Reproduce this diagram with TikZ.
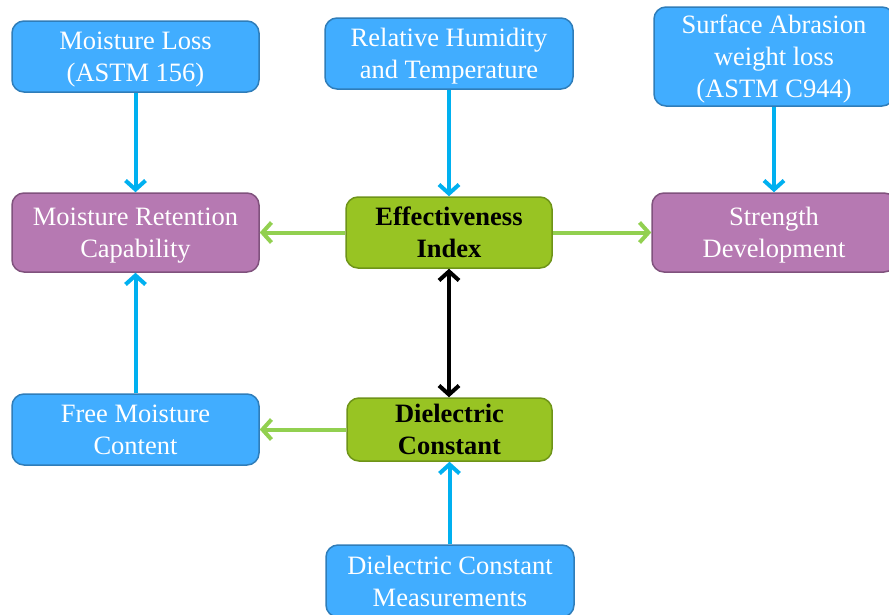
\documentclass[tikz,border=0pt]{standalone}
\usepackage{fontspec}
\setmainfont{Liberation Serif}
\usetikzlibrary{arrows.meta}
\definecolor{bfill}{HTML}{41ADFF}
\definecolor{bdraw}{HTML}{2F7DB9}
\definecolor{pfill}{HTML}{B679B2}
\definecolor{pdraw}{HTML}{80527D}
\definecolor{gfill}{HTML}{98C423}
\definecolor{gdraw}{HTML}{6E9418}
\definecolor{barrow}{HTML}{00B0F0}
\definecolor{garrow}{HTML}{92D050}
\tikzset{
  box/.style={rounded corners=12pt, line width=1.5pt, align=center, inner sep=0pt,
    text depth=-4pt, font=\fontsize{26.5}{32}\selectfont, text=white},
  bluebox/.style={box, fill=bfill, draw=bdraw},
  purplebox/.style={box, fill=pfill, draw=pdraw},
  greenbox/.style={box, fill=gfill, draw=gdraw, text=black, font=\fontsize{26.5}{32}\selectfont\bfseries},
  barr/.style={draw=barrow, line width=4pt, -{Straight Barb[length=9pt,width=20pt,line width=4pt]}},
  garr/.style={draw=garrow, line width=4pt, -{Straight Barb[length=9pt,width=20pt,line width=4pt]}},
  karr/.style={draw=black, line width=4pt, {Straight Barb[length=9pt,width=20pt,line width=4pt]}-{Straight Barb[length=9pt,width=20pt,line width=4pt]}},
}
\begin{document}
\begin{tikzpicture}[x=1pt,y=-1pt]
\useasboundingbox (0,0) rectangle (889,614);
\clip (0,0) rectangle (889,614);
\node[bluebox, minimum width=247pt, minimum height=71pt] (ml) at (135.5,56.5) {Moisture Loss\\(ASTM 156)};
\node[bluebox, minimum width=248pt, minimum height=71pt] (rh) at (449,53.5) {Relative Humidity\\and Temperature};
\node[bluebox, minimum width=240pt, minimum height=99pt] (sa) at (774,56.5) {Surface Abrasion\\weight loss\\(ASTM C944)};
\node[purplebox, minimum width=247pt, minimum height=79pt] (mr) at (135.5,232.5) {Moisture Retention\\Capability};
\node[greenbox, minimum width=206pt, minimum height=71pt] (ei) at (449,232.5) {Effectiveness\\Index};
\node[purplebox, minimum width=244pt, minimum height=79pt] (sd) at (774,232.5) {Strength\\Development};
\node[bluebox, minimum width=247pt, minimum height=71pt] (fm) at (135.5,429.5) {Free Moisture\\Content};
\node[greenbox, minimum width=205pt, minimum height=63pt] (dc) at (449.5,429.5) {Dielectric\\Constant};
\node[bluebox, minimum width=248pt, minimum height=72pt] (dm) at (450,581) {Dielectric Constant\\Measurements};
\draw[barr] (ml.south) -- (mr.north);
\draw[barr] (rh.south) -- (ei.north);
\draw[barr] (sa.south) -- (sd.north);
\draw[barr] (fm.north) -- (mr.south);
\draw[barr] (dm.north -| dc.south) -- (dc.south);
\draw[garr] (ei.west) -- (mr.east);
\draw[garr] (ei.east) -- (sd.west);
\draw[garr] (dc.west) -- (fm.east);
\draw[karr] (ei.south) -- (dc.north -| ei.south);
\end{tikzpicture}
\end{document}
